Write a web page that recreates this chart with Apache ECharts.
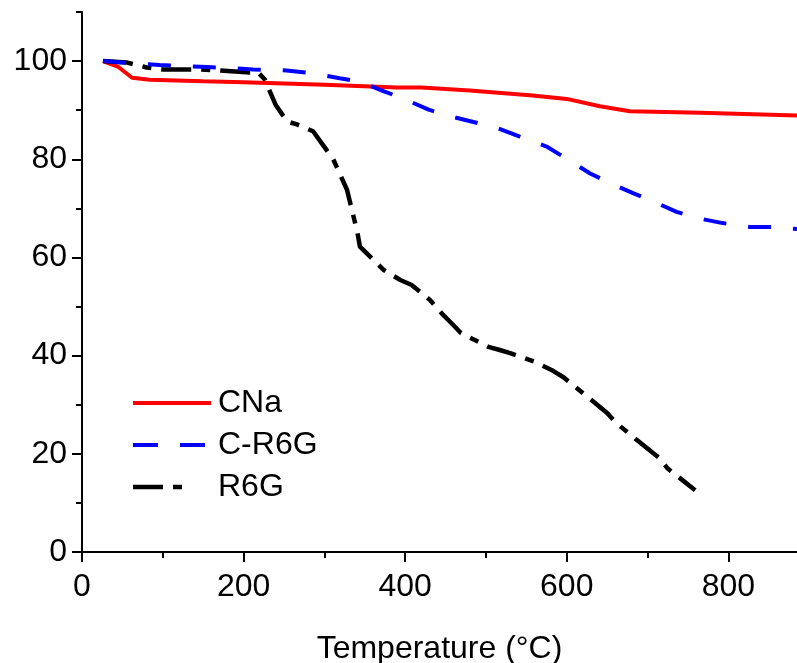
<!DOCTYPE html>
<html>
<head>
<meta charset="utf-8">
<script src="https://cdn.jsdelivr.net/npm/echarts@6/dist/echarts.min.js"></script>
<style>
html,body{margin:0;padding:0;background:#fff;}
#c{width:797px;height:663px;}
</style>
</head>
<body>
<div id="c"></div>
<script>
// ---- data ----
const seriesNames = ['CNa', 'C-R6G', 'R6G'];
const xMajorTicks = [0, 200, 400, 600, 800];
const xMinorTicks = [100, 300, 500, 700];
const yMajorTicks = [0, 20, 40, 60, 80, 100];
const yMinorTicks = [10, 30, 50, 70, 90, 110];

const cnaTemp   = [26, 45, 62, 84, 150, 200, 300, 390, 420, 480, 558, 600, 641, 678, 765, 885];
const cnaWeight = [100, 98.8, 96.6, 96.2, 95.9, 95.7, 95.2, 94.6, 94.6, 94.0, 93.0, 92.3, 90.8, 89.8, 89.5, 88.9];

const crTemp   = [26, 96, 155, 212, 253, 286, 319, 344, 373, 400, 429, 457, 487, 513, 542, 575, 600, 629, 653, 682, 707, 736, 762, 793, 827, 854, 885];
const crWeight = [100, 99.2, 98.8, 98.3, 98.1, 97.5, 96.5, 95.8, 93.9, 92.2, 90.1, 88.7, 87.5, 86.4, 84.6, 82.6, 80.1, 77.1, 75.2, 73.1, 71.4, 69.3, 68.0, 67.0, 66.2, 66.2, 65.8];

const r6gTemp   = [26, 56, 80, 100, 146, 171, 208, 218, 226, 240, 254, 266, 286, 311, 328, 341, 344, 373, 394, 408, 431, 447, 458, 469, 503, 516, 530, 561, 583, 596, 628, 650, 661, 693, 715, 725, 759];
const r6gWeight = [100, 99.7, 98.7, 98.3, 98.3, 98.1, 97.7, 97.7, 96.3, 91.0, 87.7, 87.1, 85.7, 80.0, 73.8, 65.0, 62.2, 57.5, 55.4, 54.4, 51.3, 48.3, 46.5, 44.6, 41.8, 41.2, 40.5, 38.7, 36.9, 35.6, 31.3, 28.3, 26.3, 22.0, 19.1, 17.0, 12.6];

const xMin = 0, xMax = 885, yMin = 0, yMax = 110;
const FONT = 'Liberation Sans, Arial, sans-serif';
const FS = 32;

function pairs(xs, ys){ return xs.map((x,i)=>[x, ys[i]]); }

// legend sample icons (dash patterns drawn as filled paths, width box 0..80)
const iconSolid   = 'path://M80,4 M0,0h78v4h-78z';
const iconDash    = 'path://M80,4 M0,0h25v4h-25z M47,0h25v4h-25z';
const iconDashDot = 'path://M80,4 M0,0h30v4.5h-30z M40,0h9v4.5h-9z';

const chart = echarts.init(document.getElementById('c'), null, {renderer:'canvas'});
const axisLine = {show:true, onZero:false, lineStyle:{color:'#000', width:2}};
chart.setOption({
  animation:false,
  backgroundColor:'#fff',
  grid:{left:82, right:0, top:12, bottom:111, containLabel:false, outerBoundsMode:'none'},
  xAxis:[{
    type:'value', min:xMin, max:xMax, position:'bottom',
    axisLine:axisLine,
    axisTick:{show:true, inside:false, length:10, lineStyle:{color:'#000', width:2}, customValues:xMajorTicks},
    axisLabel:{show:true, margin:19, fontSize:FS, color:'#000', fontFamily:FONT, customValues:xMajorTicks},
    splitLine:{show:false},
    name:'Temperature (°C)', nameLocation:'middle', nameGap:81,
    nameTextStyle:{fontSize:FS, color:'#000', fontFamily:FONT}
  },{
    type:'value', min:xMin, max:xMax, position:'bottom', gridIndex:0,
    axisLine:{show:false},
    axisTick:{show:true, inside:false, length:6, lineStyle:{color:'#000', width:2}, customValues:xMinorTicks},
    axisLabel:{show:false}, splitLine:{show:false}
  }],
  yAxis:[{
    type:'value', min:yMin, max:yMax, position:'left',
    axisLine:axisLine,
    axisTick:{show:true, inside:false, length:10, lineStyle:{color:'#000', width:2}, customValues:yMajorTicks},
    axisLabel:{show:true, margin:15, fontSize:FS, color:'#000', fontFamily:FONT, customValues:yMajorTicks, padding:[0,0,6,0]},
    splitLine:{show:false}
  },{
    type:'value', min:yMin, max:yMax, position:'left', gridIndex:0,
    axisLine:{show:false},
    axisTick:{show:true, inside:false, length:6, lineStyle:{color:'#000', width:2}, customValues:yMinorTicks},
    axisLabel:{show:false}, splitLine:{show:false}
  }],
  legend:{
    orient:'vertical', left:133, top:387, padding:0, itemGap:10,
    itemWidth:80, itemHeight:30,
    textStyle:{fontSize:FS, color:'#000', fontFamily:FONT, lineHeight:30},
    data:[
      {name:seriesNames[0], icon:iconSolid},
      {name:seriesNames[1], icon:iconDash},
      {name:seriesNames[2], icon:iconDashDot}
    ]
  },
  series:[
    {name:seriesNames[0], type:'line', xAxisIndex:0, yAxisIndex:0, data:pairs(cnaTemp, cnaWeight),
     showSymbol:false, symbol:'none', lineStyle:{color:'#ff0000', width:4}, itemStyle:{color:'#ff0000'}, z:2},
    {name:seriesNames[2], type:'line', xAxisIndex:0, yAxisIndex:0, data:pairs(r6gTemp, r6gWeight),
     showSymbol:false, symbol:'none', lineStyle:{color:'#000', width:4.5, type:[30,10,9,10]}, itemStyle:{color:'#000'}, z:3},
    {name:seriesNames[1], type:'line', xAxisIndex:0, yAxisIndex:0, data:pairs(crTemp, crWeight),
     showSymbol:false, symbol:'none', lineStyle:{color:'#0000ff', width:4, type:[23,22]}, itemStyle:{color:'#0000ff'}, z:4}
  ]
});
</script>
</body>
</html>
